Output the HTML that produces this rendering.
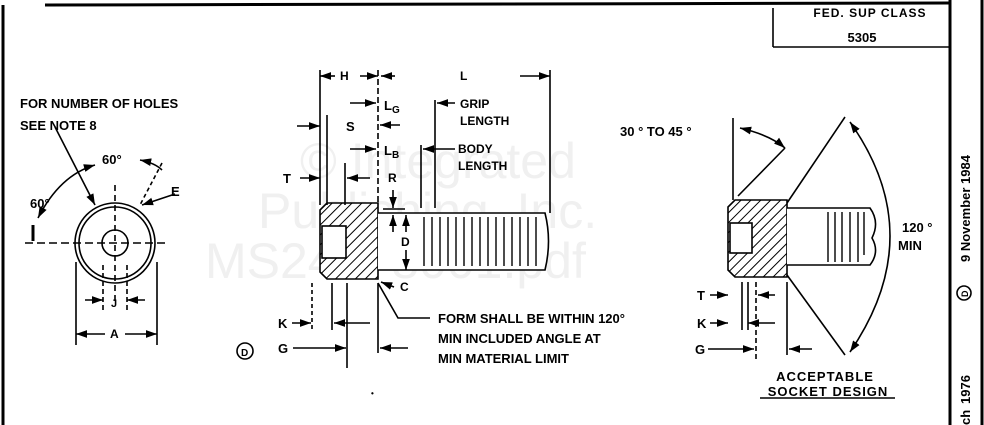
<!DOCTYPE html>
<html><head><meta charset="utf-8"><style>
html,body{margin:0;padding:0;background:#fff;}
svg{display:block;}
text{font-family:"Liberation Sans",sans-serif;font-weight:bold;fill:#000;}
.wm{font-weight:normal;fill:#f0f0f0;font-size:50px;}
</style></head><body>
<svg width="984" height="425" viewBox="0 0 984 425" xmlns="http://www.w3.org/2000/svg">
<defs>
<marker id="a" viewBox="0 0 10 10" refX="10" refY="5" markerWidth="7" markerHeight="7" orient="auto-start-reverse"><path d="M0,1.5 L10,5 L0,8.5z" fill="#000"/></marker>
<pattern id="h" width="7" height="7" patternUnits="userSpaceOnUse" patternTransform="rotate(45)"><rect width="7" height="7" fill="#fff"/><line x1="0" y1="0" x2="0" y2="7" stroke="#000" stroke-width="2"/></pattern>
</defs>
<text class="wm" x="300" y="178">© Integrated</text>
<text class="wm" x="258" y="228">Publishing, Inc.</text>
<text class="wm" x="205" y="278">MS24678001.pdf</text>

<g stroke="#000" fill="none" stroke-width="1.6">
<line x1="3" y1="5" x2="3" y2="425" stroke-width="3"/>
<line x1="45" y1="5" x2="950" y2="3" stroke-width="3"/>
<line x1="950" y1="0" x2="950" y2="425" stroke-width="3"/>
<line x1="982" y1="0" x2="982" y2="425" stroke-width="3"/>
<line x1="773" y1="8" x2="773" y2="47"/>
<line x1="773" y1="47" x2="950" y2="47"/>

<circle cx="115" cy="243" r="40"/>
<circle cx="115" cy="243" r="36"/>
<circle cx="115" cy="243" r="13"/>
<line x1="25" y1="243" x2="165" y2="243" stroke-dasharray="8,4"/>
<line x1="115" y1="185" x2="115" y2="305" stroke-dasharray="6,4"/>
<line x1="33" y1="225" x2="33" y2="241" stroke-width="3"/>
<path d="M38,218 Q60,175 95,165" marker-start="url(#a)" marker-end="url(#a)"/>
<path d="M140,160 Q155,163 162,170" marker-start="url(#a)"/>
<line x1="162" y1="163" x2="140" y2="205" stroke-dasharray="4,3"/>
<line x1="55" y1="127" x2="95" y2="205" marker-end="url(#a)"/>
<line x1="175" y1="194" x2="142" y2="205" marker-end="url(#a)"/>
<line x1="76" y1="262" x2="76" y2="345"/>
<line x1="157" y1="262" x2="157" y2="345"/>
<line x1="103" y1="265" x2="103" y2="310" stroke-dasharray="5,3"/>
<line x1="127" y1="265" x2="127" y2="310" stroke-dasharray="5,3"/>
<line x1="85" y1="300" x2="103" y2="300" marker-end="url(#a)"/>
<line x1="145" y1="300" x2="127" y2="300" marker-end="url(#a)"/>
<line x1="105" y1="334" x2="76" y2="334" marker-end="url(#a)"/>
<line x1="125" y1="334" x2="157" y2="334" marker-end="url(#a)"/>

<path d="M327,203 L378,203 L378,279 L327,279 L320,272 L320,210 Z" fill="url(#h)"/>
<rect x="322" y="226" width="24" height="32" fill="#fff"/>
<path d="M378,213 L545,213 Q552,241 545,270 L378,270" fill="#fff"/>
<g stroke-width="1.4">
<line x1="424" y1="217" x2="424" y2="266"/><line x1="432" y1="217" x2="432" y2="266"/><line x1="440" y1="217" x2="440" y2="266"/><line x1="448" y1="217" x2="448" y2="266"/><line x1="456" y1="217" x2="456" y2="266"/><line x1="464" y1="217" x2="464" y2="266"/><line x1="472" y1="217" x2="472" y2="266"/><line x1="480" y1="217" x2="480" y2="266"/><line x1="488" y1="217" x2="488" y2="266"/><line x1="496" y1="217" x2="496" y2="266"/><line x1="504" y1="217" x2="504" y2="266"/><line x1="512" y1="217" x2="512" y2="266"/><line x1="520" y1="217" x2="520" y2="266"/><line x1="528" y1="217" x2="528" y2="266"/><line x1="536" y1="217" x2="536" y2="266"/>
</g>
<line x1="320" y1="70" x2="320" y2="205"/>
<line x1="378" y1="70" x2="378" y2="205" stroke-dasharray="6,3"/>
<line x1="550" y1="70" x2="550" y2="213"/>
<line x1="335" y1="76" x2="320" y2="76" marker-end="url(#a)"/>
<line x1="360" y1="76" x2="378" y2="76" marker-end="url(#a)"/>
<line x1="395" y1="76" x2="381" y2="76" marker-end="url(#a)"/>
<line x1="520" y1="76" x2="550" y2="76" marker-end="url(#a)"/>
<line x1="327" y1="115" x2="327" y2="205"/>
<line x1="297" y1="126" x2="320" y2="126" marker-end="url(#a)"/>
<line x1="350" y1="103" x2="376" y2="103" marker-end="url(#a)"/>
<line x1="400" y1="125" x2="380" y2="125" marker-end="url(#a)"/>
<line x1="350" y1="149" x2="376" y2="149" marker-end="url(#a)"/>
<line x1="435" y1="100" x2="435" y2="208"/>
<line x1="455" y1="103" x2="437" y2="103" marker-end="url(#a)"/>
<line x1="421" y1="145" x2="421" y2="208"/>
<line x1="455" y1="149" x2="423" y2="149" marker-end="url(#a)"/>
<line x1="345" y1="163" x2="345" y2="205"/>
<line x1="300" y1="178" x2="320" y2="178" marker-end="url(#a)"/>
<line x1="370" y1="178" x2="347" y2="178" marker-end="url(#a)"/>
<line x1="393" y1="190" x2="393" y2="208" marker-end="url(#a)"/>
<line x1="383" y1="209" x2="405" y2="209"/>
<line x1="393" y1="232" x2="393" y2="215" marker-end="url(#a)"/>
<line x1="406" y1="232" x2="406" y2="215" marker-end="url(#a)"/>
<line x1="406" y1="250" x2="406" y2="270" marker-end="url(#a)"/>
<line x1="394" y1="287" x2="381" y2="282" marker-end="url(#a)"/>
<polyline points="378,283 398,318 430,318"/>
<line x1="312" y1="283" x2="312" y2="330" stroke-dasharray="4,3"/>
<line x1="332" y1="283" x2="332" y2="330"/>
<line x1="347" y1="283" x2="347" y2="368"/>
<line x1="378" y1="283" x2="378" y2="353"/>
<line x1="292" y1="323" x2="311" y2="323" marker-end="url(#a)"/>
<line x1="370" y1="323" x2="334" y2="323" marker-end="url(#a)"/>
<line x1="293" y1="348" x2="346" y2="348" marker-end="url(#a)"/>
<line x1="408" y1="348" x2="380" y2="348" marker-end="url(#a)"/>
<circle cx="245" cy="351" r="8"/>

<path d="M735,200 L787,200 L787,277 L735,277 L728,270 L728,207 Z" fill="url(#h)"/>
<rect x="730" y="223" width="22" height="30" fill="#fff"/>
<path d="M787,208 L870,208 Q880,222 872,238 Q880,252 870,265 L787,265" fill="#fff"/>
<g stroke-width="1.4"><line x1="828" y1="212" x2="828" y2="262"/><line x1="835" y1="212" x2="835" y2="262"/><line x1="842" y1="212" x2="842" y2="262"/><line x1="850" y1="212" x2="850" y2="262"/><line x1="858" y1="212" x2="858" y2="262"/><line x1="864" y1="212" x2="864" y2="255"/></g>
<line x1="733" y1="118" x2="733" y2="200"/>
<path d="M740,128 Q770,135 785,148" marker-start="url(#a)" marker-end="url(#a)"/>
<line x1="785" y1="148" x2="738" y2="196"/>
<line x1="787" y1="203" x2="845" y2="117"/>
<line x1="787" y1="275" x2="845" y2="355"/>
<path d="M850,122 Q930,235 850,352" marker-start="url(#a)" marker-end="url(#a)"/>
<line x1="742" y1="282" x2="742" y2="330"/>
<line x1="756" y1="282" x2="756" y2="360" stroke-dasharray="5,3"/>
<line x1="748" y1="282" x2="748" y2="330"/>
<line x1="787" y1="282" x2="787" y2="355"/>
<line x1="710" y1="295" x2="728" y2="295" marker-end="url(#a)"/>
<line x1="775" y1="295" x2="758" y2="295" marker-end="url(#a)"/>
<line x1="710" y1="323" x2="728" y2="323" marker-end="url(#a)"/>
<line x1="775" y1="323" x2="748" y2="323" marker-end="url(#a)"/>
<line x1="708" y1="349" x2="754" y2="349" marker-end="url(#a)"/>
<line x1="812" y1="349" x2="789" y2="349" marker-end="url(#a)"/>
<line x1="760" y1="398" x2="895" y2="398"/>
<circle cx="964" cy="293" r="7"/>
</g>

<g font-size="13">
<text x="20" y="108">FOR NUMBER OF HOLES</text>
<text x="20" y="130">SEE NOTE 8</text>
<text x="30" y="208">60°</text>
<text x="102" y="164">60°</text>
<text x="171" y="196">E</text>
<text x="111" y="307" font-size="11">J</text>
<text x="110" y="338" font-size="12">A</text>
<text x="340" y="80" font-size="12">H</text>
<text x="460" y="80" font-size="12">L</text>
<text x="346" y="131">S</text>
<text x="384" y="110">L<tspan font-size="10" dy="3">G</tspan></text>
<text x="460" y="108" font-size="12">GRIP</text>
<text x="460" y="125" font-size="12">LENGTH</text>
<text x="384" y="155">L<tspan font-size="10" dy="3">B</tspan></text>
<text x="458" y="153" font-size="12">BODY</text>
<text x="458" y="170" font-size="12">LENGTH</text>
<text x="283" y="183">T</text>
<text x="388" y="182" font-size="12">R</text>
<text x="401" y="246" font-size="12">D</text>
<text x="400" y="291" font-size="12">C</text>
<text x="438" y="323">FORM SHALL BE WITHIN 120°</text>
<text x="438" y="343">MIN INCLUDED ANGLE AT</text>
<text x="438" y="363">MIN MATERIAL LIMIT</text>
<text x="278" y="328">K</text>
<text x="278" y="353">G</text>
<text x="241" y="356" font-size="10">D</text>
<text x="620" y="136" font-weight="normal">30 ° TO 45 °</text>
<text x="902" y="232" font-weight="normal">120 °</text>
<text x="898" y="250" font-weight="normal">MIN</text>
<text x="697" y="300">T</text>
<text x="697" y="328">K</text>
<text x="695" y="354">G</text>
<text x="825" y="381" text-anchor="middle" font-weight="normal" letter-spacing="1">ACCEPTABLE</text>
<text x="828" y="396" text-anchor="middle" font-weight="normal" letter-spacing="1">SOCKET DESIGN</text>
<text x="870" y="17" text-anchor="middle" font-weight="normal" font-size="12" letter-spacing="1">FED. SUP CLASS</text>
<text x="862" y="42" text-anchor="middle" font-weight="normal">5305</text>
<text x="371" y="396" font-size="8">•</text>
<text transform="translate(970,262) rotate(-90)" font-weight="normal" font-size="13">9 November 1984</text>
<text transform="translate(970,404) rotate(-90)" font-weight="normal" font-size="13">1976</text>
<text transform="translate(970,425) rotate(-90)" font-weight="normal" font-size="13">ch</text>
<text transform="translate(968,297) rotate(-90)" font-size="9">D</text>
</g>
</svg>
</body></html>
